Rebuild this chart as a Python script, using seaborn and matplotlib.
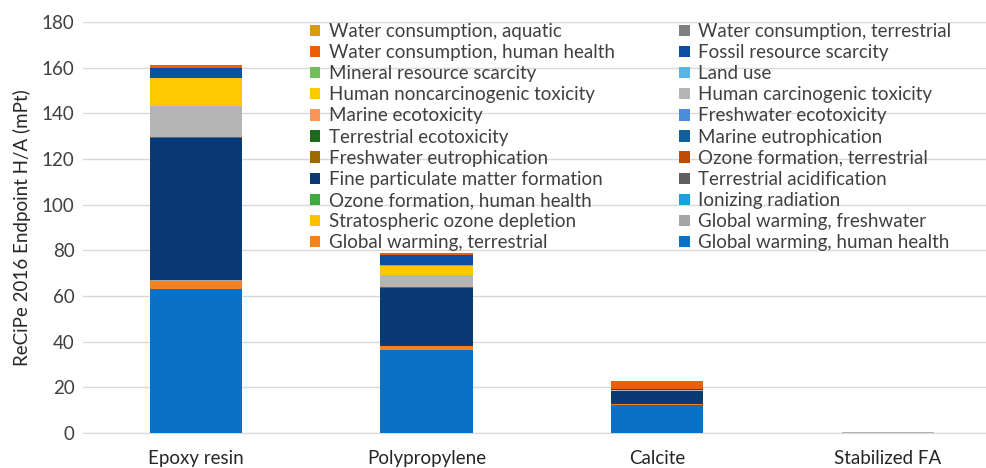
import numpy as np
import pandas as pd
import matplotlib
matplotlib.use("Agg")
import matplotlib.pyplot as plt
from matplotlib.patches import Patch
import seaborn as sns

# Categorias e impactos (ordem de empilhamento, de baixo para cima)
materials = ['Epoxy resin', 'Polypropylene', 'Calcite', 'Stabilized FA']
impacts = [
    'Global warming, human health', 'Global warming, terrestrial',
    'Global warming, freshwater', 'Stratospheric ozone depletion',
    'Ionizing radiation', 'Ozone formation, human health',
    'Terrestrial acidification', 'Fine particulate matter formation',
    'Ozone formation, terrestrial', 'Freshwater eutrophication',
    'Marine eutrophication', 'Terrestrial ecotoxicity',
    'Freshwater ecotoxicity', 'Marine ecotoxicity',
    'Human carcinogenic toxicity', 'Human noncarcinogenic toxicity',
    'Land use', 'Mineral resource scarcity', 'Fossil resource scarcity',
    'Water consumption, human health', 'Water consumption, terrestrial',
    'Water consumption, aquatic',
]
colors = [
    '#0A72C6', '#F58220', '#A5A5A5', '#FFC000', '#1BA0DC', '#3DAA3D',
    '#5F5F5F', '#0A3A73', '#C04A00', '#9C6A00', '#105E9A', '#1E6B1E',
    '#4A8CD8', '#F8965A', '#B4B4B4', '#FFC800', '#5AB4E5', '#70BF5A',
    '#0B4EA2', '#EB5E0B', '#7F7F7F', '#D99A0B',
]

# valores (mPt) por impacto
epoxy = [63.2, 3.5, 0.1, 0.05, 0.02, 0.02, 0.1, 62.1, 0.5, 0.05, 0.01, 0.01,
         0.02, 0.05, 13.4, 12.2, 0.1, 0.05, 4.2, 1.4, 0.02, 0.01]
polyprop = [36.4, 1.7, 0.05, 0.02, 0.01, 0.01, 0.05, 25.3, 0.2, 0.02, 0.01, 0.01,
            0.01, 0.02, 5.2, 4.3, 0.05, 0.02, 4.7, 0.7, 0.01, 0.01]
calcite = [12.4, 0.4, 0.02, 0.01, 0.01, 0.01, 0.05, 5.4, 0.1, 0.01, 0.0, 0.0,
           0.0, 0.01, 0.5, 0.1, 0.02, 0.01, 0.1, 3.5, 0.01, 0.1]
stab_fa = [0.0, 0.0, 0.0, 0.0, 0.0, 0.0, 0.0, 0.0, 0.0, 0.0, 0.0, 0.0,
           0.0, 0.0, 0.4, 0.0, 0.0, 0.0, 0.0, 0.0, 0.0, 0.0]

df = pd.DataFrame({'Epoxy resin': epoxy, 'Polypropylene': polyprop,
                   'Calcite': calcite, 'Stabilized FA': stab_fa}, index=impacts)
cum = df.cumsum()

sns.set_style("white")
plt.rcParams['font.family'] = ['Lato', 'DejaVu Sans']

fig = plt.figure(figsize=(9.87, 4.68), dpi=100)
ax = fig.add_axes([83 / 987, 35 / 468, 904 / 987, 411 / 468])

# barras empilhadas: desenha os totais acumulados de cima para baixo
for imp, col in reversed(list(zip(impacts, colors))):
    d = pd.DataFrame({'material': materials, 'valor': cum.loc[imp, materials].values})
    sns.barplot(data=d, x='material', y='valor', color=col, width=0.4,
                saturation=1, edgecolor='none', linewidth=0, ax=ax, zorder=3)

ax.set_xlim(-0.49, 3.43)
ax.set_ylim(0, 180)
ax.set_yticks(np.arange(0, 181, 20))
ax.yaxis.grid(True, color='#D9D9D9', linewidth=1, zorder=0)
ax.set_axisbelow(True)
for s in ['top', 'right', 'left']:
    ax.spines[s].set_visible(False)
ax.spines['bottom'].set_color('#D9D9D9')
ax.tick_params(axis='y', labelsize=13.5, colors='#404040', length=0, pad=6)
ax.tick_params(axis='x', labelsize=13.5, length=0, pad=12)
ax.set_xlabel('')
ax.set_ylabel('ReCiPe 2016 Endpoint H/A (mPt)', fontsize=13.5, labelpad=8)

# legenda em duas colunas (ordem por linhas, como no Excel)
handles = [Patch(facecolor=c, edgecolor='none', label=l) for l, c in zip(impacts, colors)]
rev = handles[::-1]
ordered = rev[0::2] + rev[1::2]
leg = fig.legend(handles=ordered, ncol=2, loc='upper left',
                 bbox_to_anchor=(310 / 987, 1 - 23 / 468), frameon=False,
                 fontsize=13.5, handlelength=0.55, handleheight=0.55,
                 handletextpad=0.45, columnspacing=3.45, labelspacing=0.22,
                 borderaxespad=0, borderpad=0)
for t in leg.get_texts():
    t.set_color('#404040')

plt.savefig('out.png', dpi=100)
